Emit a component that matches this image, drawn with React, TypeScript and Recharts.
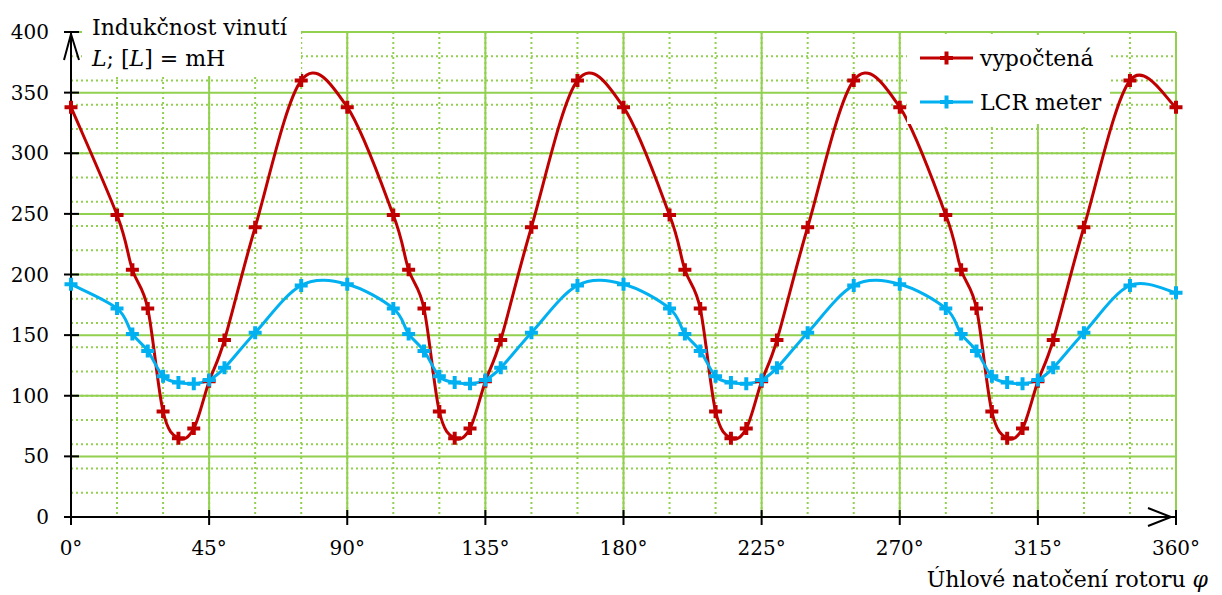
import React from "react";
import { LineChart, Line, XAxis, YAxis, CartesianGrid, ReferenceDot } from "recharts";

// úhel natočení rotoru [°]
const angles = [
  0, 15, 20, 25, 30, 35, 40, 45, 50, 60, 75,
  90, 105, 110, 115, 120, 125, 130, 135, 140, 150, 165,
  180, 195, 200, 205, 210, 215, 220, 225, 230, 240, 255,
  270, 285, 290, 295, 300, 305, 310, 315, 320, 330, 345,
  360,
];

// indukčnost [mH]
const vypoctena = [
  338, 249, 204, 172, 87, 65, 73, 112, 146, 239, 360,
  338, 249, 204, 172, 87, 65, 73, 112, 146, 239, 360,
  338, 249, 204, 172, 87, 65, 73, 112, 146, 239, 360,
  338, 249, 204, 172, 87, 65, 73, 112, 146, 239, 360,
  338,
];

const lcrMeter = [
  192, 172, 151, 137, 116, 111, 110, 113, 123, 152, 191,
  192, 172, 151, 137, 116, 111, 110, 113, 123, 152, 191,
  192, 172, 151, 137, 116, 111, 110, 113, 123, 152, 191,
  192, 172, 151, 137, 116, 111, 110, 113, 123, 152, 191,
  185,
];

const xTicks = [0, 45, 90, 135, 180, 225, 270, 315, 360];
const yTicks = [0, 50, 100, 150, 200, 250, 300, 350, 400];
const xMinor = [0, 15, 30, 45, 60, 75, 90, 105, 120, 135, 150, 165, 180, 195, 210, 225, 240, 255, 270, 285, 300, 315, 330, 345, 360];
const yMinor = [0, 10, 20, 30, 40, 50, 60, 70, 80, 90, 100, 110, 120, 130, 140, 150, 160, 170, 180, 190, 200, 210, 220, 230, 240, 250, 260, 270, 280, 290, 300, 310, 320, 330, 340, 350, 360, 370, 380, 390, 400];

const series = [
  { key: "vypoctena", name: "vypočtená", color: "#C00000" },
  { key: "lcr", name: "LCR meter", color: "#00B0F0" },
];

const data = angles.map((a, i) => ({ angle: a, vypoctena: vypoctena[i], lcr: lcrMeter[i] }));

const FONT = "'DejaVu Serif', serif";
const GREEN = "#92D050";

// hladká křivka jako v Excelu (Catmull-Rom -> Bezier)
function excelSmooth(context: any) {
  let pts: number[][] = [];
  return {
    areaStart() {},
    areaEnd() {},
    lineStart() {
      pts = [];
    },
    point(x: number, y: number) {
      pts.push([+x, +y]);
    },
    lineEnd() {
      const n = pts.length;
      if (!n) return;
      context.moveTo(pts[0][0], pts[0][1]);
      for (let i = 0; i < n - 1; i++) {
        const p0 = pts[Math.max(i - 1, 0)];
        const p1 = pts[i];
        const p2 = pts[i + 1];
        const p3 = pts[Math.min(i + 2, n - 1)];
        context.bezierCurveTo(
          p1[0] + (p2[0] - p0[0]) / 6,
          p1[1] + (p2[1] - p0[1]) / 6,
          p2[0] - (p3[0] - p1[0]) / 6,
          p2[1] - (p3[1] - p1[1]) / 6,
          p2[0],
          p2[1]
        );
      }
    },
  };
}

const plusDot = (color: string) => (props: any) => {
  const { cx, cy, key, index } = props;
  if (cx == null || cy == null) return <g key={key ?? index} />;
  return (
    <path
      key={key ?? index}
      d={`M${cx - 6.5},${cy}h13M${cx},${cy - 6.5}v13`}
      stroke={color}
      strokeWidth={4}
      fill="none"
    />
  );
};

const XTick = (props: any) => {
  const { x, y, payload } = props;
  return (
    <g>
      <line x1={x} x2={x} y1={y - 7} y2={y + 8} stroke="#000" strokeWidth={2} />
      <text x={x} y={y + 38} textAnchor="middle" fontFamily={FONT} fontSize={20} fill="#000">
        {payload.value}°
      </text>
    </g>
  );
};

const YTick = (props: any) => {
  const { x, y, payload } = props;
  return (
    <g>
      <line x1={x - 7} x2={x + 8} y1={y} y2={y} stroke="#000" strokeWidth={2} />
      <text x={x - 22} y={y} dy="0.35em" textAnchor="end" fontFamily={FONT} fontSize={20} fill="#000">
        {payload.value}
      </text>
    </g>
  );
};

const YArrow = (props: any) => {
  const { cx, cy } = props;
  return <path d={`M${cx - 7},${cy + 28}L${cx},${cy + 2}L${cx + 8},${cy + 28}`} stroke="#000" strokeWidth={2} fill="none" />;
};

const XArrow = (props: any) => {
  const { cx, cy } = props;
  return <path d={`M${cx - 28},${cy - 9}L${cx - 5},${cy}L${cx - 28},${cy + 9}`} stroke="#000" strokeWidth={2} fill="none" />;
};

export default function App() {
  return (
    <div style={{ position: "absolute", left: 0, top: 0, width: 1222, height: 595, background: "#fff" }}>
      <LineChart width={1222} height={595} data={data} margin={{ top: 32, right: 46, bottom: 0, left: 0 }}>
        <XAxis xAxisId="minor" type="number" dataKey="angle" domain={[0, 360]} ticks={xMinor} hide allowDataOverflow />
        <YAxis yAxisId="minor" type="number" domain={[0, 400]} ticks={yMinor} hide allowDataOverflow />
        <CartesianGrid xAxisId="minor" yAxisId="minor" stroke={GREEN} strokeWidth={2} strokeDasharray="2 3" />
        <CartesianGrid stroke={GREEN} strokeWidth={2} />
        <XAxis
          type="number"
          dataKey="angle"
          domain={[0, 360]}
          ticks={xTicks}
          interval={0}
          height={78}
          tickSize={0}
          tickMargin={0}
          axisLine={{ stroke: "#000", strokeWidth: 2 }}
          tickLine={false}
          tick={<XTick />}
        />
        <YAxis
          type="number"
          domain={[0, 400]}
          ticks={yTicks}
          interval={0}
          width={71}
          tickSize={0}
          tickMargin={0}
          axisLine={{ stroke: "#000", strokeWidth: 2 }}
          tickLine={false}
          tick={<YTick />}
        />
        <Line
          dataKey="vypoctena"
          name={series[0].name}
          type={excelSmooth as any}
          stroke={series[0].color}
          strokeWidth={3}
          dot={plusDot(series[0].color)}
          activeDot={false}
          isAnimationActive={false}
        />
        <Line
          dataKey="lcr"
          name={series[1].name}
          type={excelSmooth as any}
          stroke={series[1].color}
          strokeWidth={3}
          dot={plusDot(series[1].color)}
          activeDot={false}
          isAnimationActive={false}
        />
        <ReferenceDot x={0} y={400} shape={<YArrow />} ifOverflow="visible" />
        <ReferenceDot x={360} y={0} shape={<XArrow />} ifOverflow="visible" />
      </LineChart>

      {/* popis osy y */}
      <div
        style={{
          position: "absolute",
          left: 82,
          top: 0,
          width: 219,
          height: 76,
          background: "#fff",
          fontFamily: FONT,
          fontSize: 22,
          lineHeight: "31px",
          paddingTop: 12,
          paddingLeft: 10,
          boxSizing: "border-box",
          whiteSpace: "nowrap",
        }}
      >
        <div>Indukčnost vinutí</div>
        <div>
          <i>L</i>; [<i>L</i>] = mH
        </div>
      </div>

      {/* legenda */}
      <div
        style={{
          position: "absolute",
          left: 907,
          top: 35,
          width: 203,
          height: 89,
          background: "#fff",
          fontFamily: FONT,
          fontSize: 22,
        }}
      >
        {series.map((s, i) => (
          <div
            key={s.key}
            style={{ position: "absolute", left: 13, top: 23 + i * 44 - 16, height: 32, display: "flex", alignItems: "center", whiteSpace: "nowrap" }}
          >
            <svg width={53} height={20} style={{ display: "block" }}>
              <line x1={0} x2={53} y1={10} y2={10} stroke={s.color} strokeWidth={3} />
              <path d="M20,10h13M26.5,3.5v13" stroke={s.color} strokeWidth={4} />
            </svg>
            <span style={{ marginLeft: 7 }}>{s.name}</span>
          </div>
        ))}
      </div>

      {/* popis osy x */}
      <div
        style={{
          position: "absolute",
          right: 14,
          top: 564,
          fontFamily: FONT,
          fontSize: 22,
          lineHeight: "31px",
          whiteSpace: "nowrap",
        }}
      >
        Úhlové natočení rotoru <i>φ</i>
      </div>
    </div>
  );
}
